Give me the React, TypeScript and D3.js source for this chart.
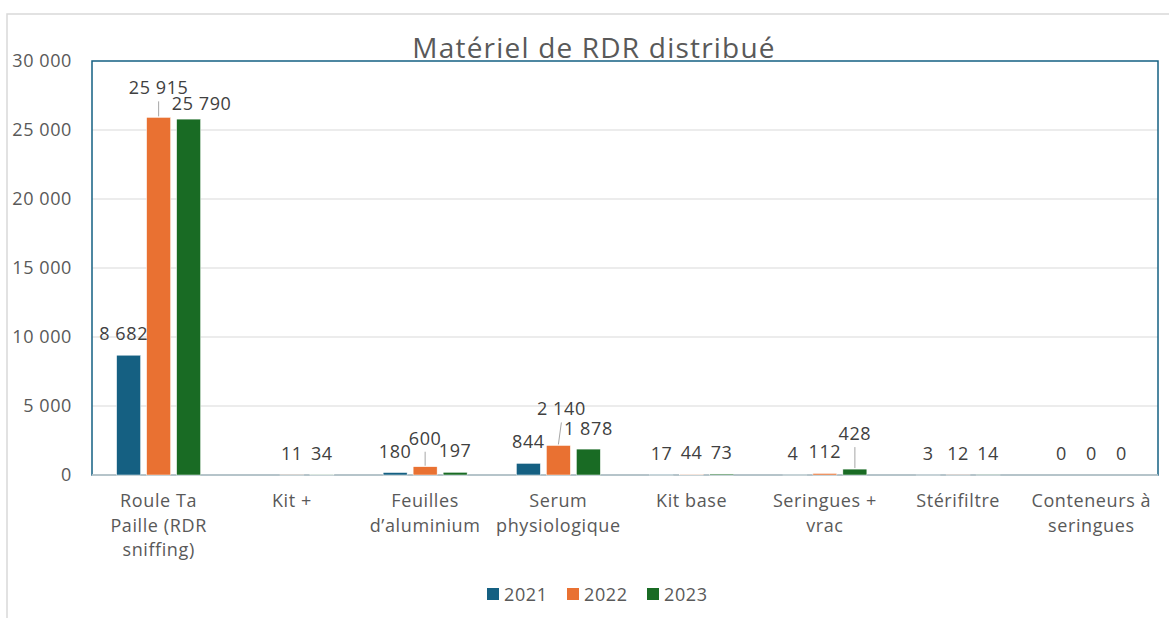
import React from "react";
import * as d3 from "d3";

const categories = [
  "Roule Ta Paille (RDR sniffing)",
  "Kit +",
  "Feuilles d’aluminium",
  "Serum physiologique",
  "Kit base",
  "Seringues + vrac",
  "Stérifiltre",
  "Conteneurs à seringues",
];
const categoryLines = [
  ["Roule Ta", "Paille (RDR", "sniffing)"],
  ["Kit +"],
  ["Feuilles", "d’aluminium"],
  ["Serum", "physiologique"],
  ["Kit base"],
  ["Seringues +", "vrac"],
  ["Stérifiltre"],
  ["Conteneurs à", "seringues"],
];
const seriesNames = ["2021", "2022", "2023"];
const values2021: (number | null)[] = [8682, null, 180, 844, 17, 4, 3, 0];
const values2022: (number | null)[] = [25915, 11, 600, 2140, 44, 112, 12, 0];
const values2023: (number | null)[] = [25790, 34, 197, 1878, 73, 428, 14, 0];
const yTicks = [0, 5000, 10000, 15000, 20000, 25000, 30000];
const title = "Matériel de RDR distribué";

const colors = ["#156082", "#E97132", "#196B24"];
// label placement tweaks (style only), keyed by "series-category"
const labelAdjust: Record<string, { dx?: number; dy?: number; leader?: boolean }> = {
  "0-0": { dx: -5 },
  "1-0": { dy: -8, leader: true },
  "2-0": { dx: 13, dy: 6 },
  "1-2": { dy: -7, leader: true },
  "1-3": { dx: 3, dy: -15, leader: true },
  "2-3": { dy: 1 },
  "2-5": { dy: -14, leader: true },
  "0-5": { dx: -2 },
};

const W = 1169;
const H = 618;
const plot = { left: 92, right: 1158, top: 61, bottom: 475 };
const FONT = "'Open Sans', 'Liberation Sans', sans-serif";
const FS = 18;
const LS = 0.6;

const locale = d3.formatLocale({
  decimal: ",",
  thousands: " ",
  grouping: [3],
  currency: ["", " €"],
});
const fmt = locale.format(",d");

export default function App() {
  const series = [values2021, values2022, values2023];
  const x = d3.scaleBand<string>().domain(categories).range([plot.left, plot.right]).paddingInner(0).paddingOuter(0);
  const xs = d3.scaleBand<string>().domain(seriesNames).range([-42, 42]).paddingInner(0.2).paddingOuter(0);
  const y = d3.scaleLinear().domain([0, 30000]).range([plot.bottom, plot.top]);

  return (
    <svg width={W} height={H} style={{ position: "absolute", left: 0, top: 0, background: "#fff" }}>
      <rect x={7} y={14} width={W} height={H} fill="#fff" stroke="#d9d9d9" strokeWidth={1.5} />
      {yTicks.map((t) => (
        <g key={t}>
          {t > 0 && t < 30000 && (
            <line x1={plot.left} x2={plot.right} y1={y(t)} y2={y(t)} stroke="#d9d9d9" strokeWidth={1} />
          )}
          <text x={72} y={y(t)} dy="0.35em" textAnchor="end" fontSize={FS} letterSpacing={LS} fill="#595959" fontFamily={FONT}>
            {fmt(t)}
          </text>
        </g>
      ))}
      <rect
        x={plot.left}
        y={plot.top}
        width={plot.right - plot.left}
        height={plot.bottom - plot.top}
        fill="none"
        stroke="#156082"
        strokeWidth={1.5}
      />
      <line x1={plot.left} x2={plot.right} y1={y(0)} y2={y(0)} stroke="#d9d9d9" strokeWidth={1.5} />
      {series.map((vals, si) =>
        vals.map((v, ci) => {
          if (v === null) return null;
          const cx = (x(categories[ci]) as number) + x.bandwidth() / 2;
          const bx = cx + (xs(seriesNames[si]) as number);
          const bw = xs.bandwidth();
          return (
            <rect
              key={`b-${si}-${ci}`}
              x={bx}
              y={y(v)}
              width={bw}
              height={y(0) - y(v)}
              fill={colors[si]}
              stroke="#fff"
              strokeWidth={0.5}
            />
          );
        })
      )}
      {series.map((vals, si) =>
        vals.map((v, ci) => {
          if (v === null) return null;
          const cx = (x(categories[ci]) as number) + x.bandwidth() / 2;
          const bc = cx + (xs(seriesNames[si]) as number) + xs.bandwidth() / 2;
          const adj = labelAdjust[`${si}-${ci}`] || {};
          const lx = bc + (adj.dx || 0);
          const ly = y(v) - 15 + (adj.dy || 0);
          return (
            <g key={`l-${si}-${ci}`}>
              {adj.leader && (
                <line x1={lx} y1={ly + 7} x2={bc} y2={y(v) - 1} stroke="#a6a6a6" strokeWidth={1} />
              )}
              <text x={lx} y={ly} textAnchor="middle" fontSize={FS} letterSpacing={LS} fill="#404040" fontFamily={FONT}>
                {fmt(v)}
              </text>
            </g>
          );
        })
      )}
      {categoryLines.map((lines, ci) => {
        const cx = (x(categories[ci]) as number) + x.bandwidth() / 2;
        return (
          <text key={`c-${ci}`} textAnchor="middle" fontSize={FS} letterSpacing={LS} fill="#595959" fontFamily={FONT}>
            {lines.map((ln, li) => (
              <tspan key={li} x={cx} y={507 + li * 24.5}>
                {ln}
              </tspan>
            ))}
          </text>
        );
      })}
      <text x={594} y={58} textAnchor="middle" fontSize={28} letterSpacing={1.2} fill="#595959" fontFamily={FONT}>
        {title}
      </text>
      {seriesNames.map((s, si) => {
        const lx = [487, 567, 647][si];
        return (
          <g key={`lg-${s}`}>
            <rect x={lx} y={588} width={12} height={12} fill={colors[si]} />
            <text x={lx + 17} y={595} dy="0.35em" fontSize={FS} letterSpacing={LS} fill="#595959" fontFamily={FONT}>
              {s}
            </text>
          </g>
        );
      })}
    </svg>
  );
}
